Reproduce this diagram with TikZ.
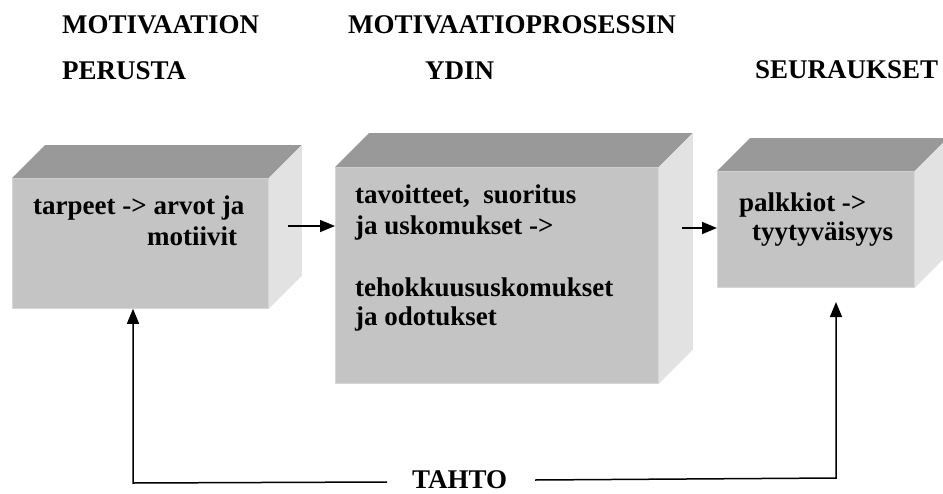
\documentclass[tikz,border=0pt]{standalone}
\usepackage{fontspec}
\setmainfont{Liberation Serif}
\usetikzlibrary{arrows.meta}

\definecolor{cubefront}{HTML}{C4C4C4}
\definecolor{cubetop}{HTML}{999999}
\definecolor{cubeside}{HTML}{E2E2E2}
\definecolor{cubeedge}{HTML}{D6D6D6}

\tikzset{
  txt/.style={anchor=base west, inner sep=0pt, font=\fontsize{27}{30}\selectfont\bfseries},
  frontface/.style={fill=cubefront, draw=cubeedge, line width=0.8pt, inner sep=0pt, anchor=north west},
  topface/.style={fill=cubetop},
  sideface/.style={fill=cubeside},
  link/.style={line width=1.5pt, -{Triangle[length=15pt,width=12pt]}},
}

% front node name, top-left corner, width, height, depth of the box
\newcommand\drawbox[5]{%
  \node[frontface, minimum width=#3pt, minimum height=#4pt] (#1) at #2 {};
  \fill[topface] (#1.north west) -- ([shift={(#5,-#5)}]#1.north west)
     -- ([shift={(#5,-#5)}]#1.north east) -- (#1.north east) -- cycle;
  \fill[sideface] (#1.north east) -- ([shift={(#5,-#5)}]#1.north east)
     -- ([shift={(#5,-#5)}]#1.south east) -- (#1.south east) -- cycle;
}

\begin{document}
\begin{tikzpicture}[x=1pt,y=-1pt]
  \useasboundingbox (0,0) rectangle (943,493);
  \clip (0,0) rectangle (943,493);

  % column headings
  \node[txt] (h1a) at (62,33) {MOTIVAATION};
  \node[txt] (h1b) at (62,79) {PERUSTA};
  \node[txt] (h2a) at (348,33) {MOTIVAATIOPROSESSIN};
  \node[txt] (h2b) at (425,79) {YDIN};
  \node[txt] (h3) at (755,78) {SEURAUKSET};

  % the three boxes
  \drawbox{b1}{(12,178)}{256}{130}{33}
  \drawbox{b2}{(335,167)}{323}{216}{34}
  \drawbox{b3}{(717,171)}{197}{116}{33}

  % box texts
  \node[txt] (t1a) at (33,214) {tarpeet -> arvot ja};
  \node[txt] (t1b) at (147,245) {motiivit};
  \node[txt] (t2a) at (355,203) {tavoitteet, \ suoritus};
  \node[txt] (t2b) at (355,234) {ja uskomukset ->};
  \node[txt] (t2c) at (355,296) {tehokkuususkomukset};
  \node[txt] (t2d) at (355,325) {ja odotukset};
  \node[txt] (t3a) at (739,211) {palkkiot ->};
  \node[txt] (t3b) at (752,240) {tyytyväisyys};

  % flow between the boxes
  \coordinate (s12) at (288,226);
  \coordinate (s23) at (682,228);
  \draw[link] (s12) -- (s12 -| b2.west);
  \draw[link] (s23) -- (s23 -| b3.west);

  % will feeding back to the first and last box
  \node[txt] (tahto) at (412,488) {TAHTO};
  \coordinate (lstart) at (387,482);
  \coordinate (lcorner) at (133,483);
  \coordinate (rstart) at (535,480);
  \coordinate (rcorner) at (836,478);
  \coordinate (rtip) at (836,302);
  \draw[link] (lstart) -- (lcorner) -- (lcorner |- b1.south);
  \draw[link] (rstart) -- (rcorner) -- (rtip);
\end{tikzpicture}
\end{document}
